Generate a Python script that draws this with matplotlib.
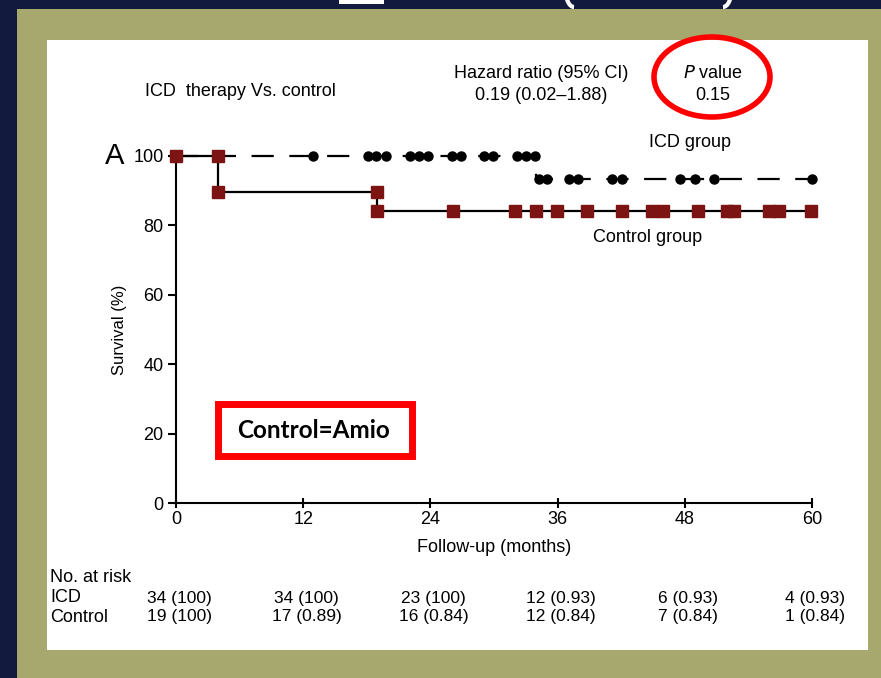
import matplotlib
matplotlib.use("Agg")
import matplotlib.pyplot as plt
from matplotlib.patches import Rectangle, Ellipse, Arc
from matplotlib.transforms import blended_transform_factory

plt.rcParams["font.family"] = ["Liberation Sans", "DejaVu Sans"]

# data
icd_step_t = [0, 34, 60]
icd_step_s = [100, 93.5, 93.5]
icd_censor_100 = [12.9, 18.1, 18.9, 19.8, 22.1, 22.9, 23.8, 26.0, 26.9, 29.1, 29.9, 32.2, 33.0, 33.9]
icd_censor_low = [34.2, 35.0, 37.1, 37.9, 41.1, 42.1, 47.5, 49.0, 50.8, 60.0]

ctrl_step_t = [0, 4, 19, 60]
ctrl_step_s = [100, 89.5, 84.2, 84.2]
ctrl_mark_t = [0, 4, 4, 19, 19]
ctrl_mark_s = [100, 100, 89.5, 89.5, 84.2]
ctrl_censor_low = [26.1, 32.0, 34.0, 35.9, 38.8, 42.1, 44.9, 45.9, 49.2, 52.0, 52.6, 55.9, 56.9, 59.9]

risk_months = [0, 12, 24, 36, 48, 60]
risk_icd = ["34 (100)", "34 (100)", "23 (100)", "12 (0.93)", "6 (0.93)", "4 (0.93)"]
risk_ctrl = ["19 (100)", "17 (0.89)", "16 (0.84)", "12 (0.84)", "7 (0.84)", "1 (0.84)"]

W, H = 881, 678
navy = "#121a3e"
olive = "#a7a86e"
sq_red = "#7d1414"

fig = plt.figure(figsize=(W / 100, H / 100), dpi=100)
fig.patch.set_facecolor(navy)

# background frame (pixel coords)
bg = fig.add_axes([0, 0, 1, 1], zorder=0)
bg.set_xlim(0, W)
bg.set_ylim(H, 0)
bg.axis("off")
bg.add_patch(Rectangle((17, 9), W - 17, H - 9, facecolor=olive, edgecolor="none", zorder=1))
bg.add_patch(Rectangle((47, 40), 821, 610, facecolor="white", edgecolor="none", zorder=1))
# cut-off title remnants (bottoms of glyphs above the frame)
bg.add_patch(Rectangle((339, 0), 45, 4, facecolor="white", edgecolor="none", zorder=0.5))
bg.add_patch(Arc((574, -8), 16, 30, theta1=90, theta2=180, color="white", lw=3, zorder=0.5))
bg.add_patch(Arc((723, -8), 16, 30, theta1=0, theta2=90, color="white", lw=3, zorder=0.5))

# KM plot
ax = fig.add_axes([176 / W, (H - 503) / H, 636 / W, 347 / H], zorder=1)
ax.set_facecolor("none")
ax.set_xlim(0, 60)
ax.set_ylim(0, 100)
for s in ["top", "right"]:
    ax.spines[s].set_visible(False)
for s in ["left", "bottom"]:
    ax.spines[s].set_linewidth(1.5)

ax.step(icd_step_t, icd_step_s, where="post", color="black", lw=1.6,
        linestyle=(0, (10, 7)), clip_on=False, zorder=2)
ax.step(ctrl_step_t, ctrl_step_s, where="post", color="black", lw=1.6,
        clip_on=False, zorder=3)
ax.plot(icd_censor_100, [100] * len(icd_censor_100), "o", color="black", ms=6.5,
        clip_on=False, zorder=4)
ax.plot(icd_censor_low, [icd_step_s[1]] * len(icd_censor_low), "o", color="black", ms=6.5,
        clip_on=False, zorder=4)
ax.plot(ctrl_mark_t, ctrl_mark_s, "s", color=sq_red, ms=9, clip_on=False, zorder=5)
ax.plot(ctrl_censor_low, [ctrl_step_s[2]] * len(ctrl_censor_low), "s", color=sq_red, ms=9,
        clip_on=False, zorder=5)

ax.set_xticks(risk_months)
ax.set_yticks([0, 20, 40, 60, 80, 100])
ax.tick_params(axis="x", direction="inout", length=7, width=1.5, labelsize=13, pad=2)
ax.tick_params(axis="y", direction="out", length=6, width=1.5, labelsize=13, pad=3)
ax.set_xlabel("Follow-up (months)", fontsize=13, labelpad=8)
ax.set_ylabel("Survival (%)", fontsize=12)
ax.yaxis.set_label_coords(-0.077, 0.5)

ax.text(-5.8, 100, "A", fontsize=21, ha="center", va="center")
ax.text(48.5, 104, "ICD group", fontsize=13, ha="center", va="center")
ax.text(44.5, 76.5, "Control group", fontsize=13, ha="center", va="center")

# number at risk table
tr = blended_transform_factory(ax.transData, fig.transFigure)
for m, a, c in zip(risk_months, risk_icd, risk_ctrl):
    ax.text(m + 0.3, (H - 598) / H, a, transform=tr, fontsize=12.5, ha="center", va="center",
            clip_on=False)
    ax.text(m + 0.3, (H - 617) / H, c, transform=tr, fontsize=12.5, ha="center", va="center",
            clip_on=False)

# overlay texts and annotations (pixel coords)
ov = fig.add_axes([0, 0, 1, 1], zorder=3)
ov.set_xlim(0, W)
ov.set_ylim(H, 0)
ov.axis("off")
ov.text(50, 578, "No. at risk", fontsize=13, ha="left", va="center")
ov.text(50, 598, "ICD", fontsize=13, ha="left", va="center")
ov.text(50, 617, "Control", fontsize=13, ha="left", va="center")
ov.text(145, 91, "ICD  therapy Vs. control", fontsize=13, ha="left", va="center")
ov.text(541, 73, "Hazard ratio (95% CI)", fontsize=13, ha="center", va="center")
ov.text(541, 96, "0.19 (0.02\u20131.88)", fontsize=13, ha="center", va="center")
ov.text(713, 73, "$\\it{P}$ value", fontsize=13, ha="center", va="center")
ov.text(713, 96, "0.15", fontsize=13, ha="center", va="center")
ov.add_patch(Ellipse((712, 77), 116, 80, facecolor="none", edgecolor="#ff0000", lw=4))
ov.add_patch(Rectangle((218, 404), 194, 52, facecolor="white", edgecolor="#ff0000", lw=5))
ov.text(314, 431, "Control=Amio", fontsize=17.5, fontweight="bold", family=["Lato", "DejaVu Sans"],
        ha="center", va="center")

fig.savefig("out.png", dpi=100, facecolor=navy)
